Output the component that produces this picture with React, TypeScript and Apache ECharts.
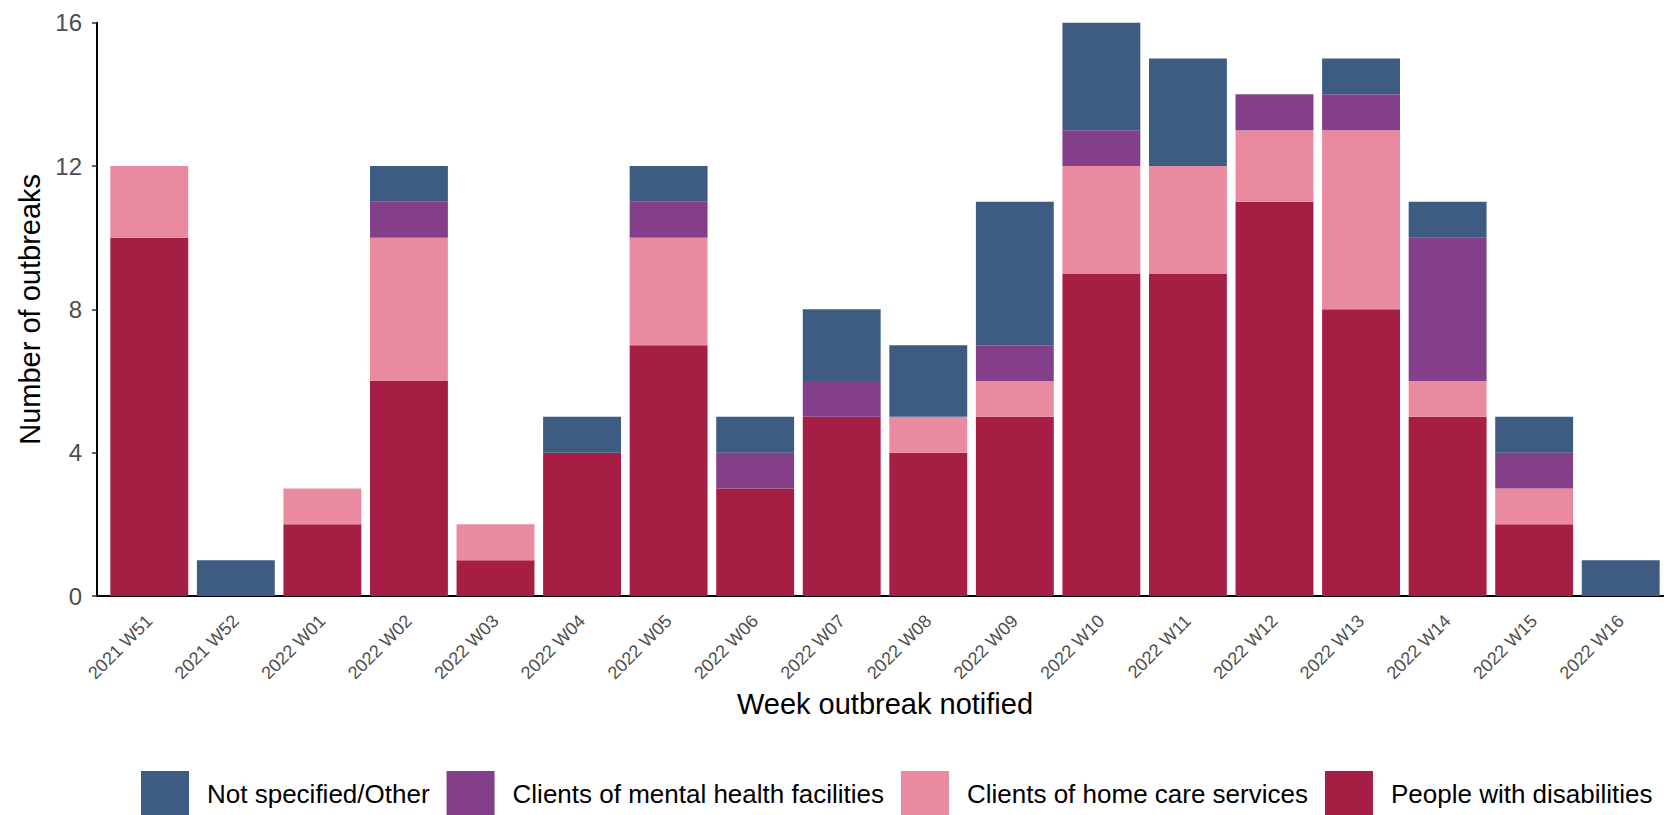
import React, { useEffect, useRef } from "react";
import * as echarts from "echarts";

const weeks = [
  "2021 W51", "2021 W52", "2022 W01", "2022 W02", "2022 W03", "2022 W04",
  "2022 W05", "2022 W06", "2022 W07", "2022 W08", "2022 W09", "2022 W10",
  "2022 W11", "2022 W12", "2022 W13", "2022 W14", "2022 W15", "2022 W16",
];
const peopleWithDisabilities = [10, 0, 2, 6, 1, 4, 7, 3, 5, 4, 5, 9, 9, 11, 8, 5, 2, 0];
const homeCare = [2, 0, 1, 4, 1, 0, 3, 0, 0, 1, 1, 3, 3, 2, 5, 1, 1, 0];
const mentalHealth = [0, 0, 0, 1, 0, 0, 1, 1, 1, 0, 1, 1, 0, 1, 1, 4, 1, 0];
const notSpecified = [0, 1, 0, 1, 0, 1, 1, 1, 2, 2, 4, 3, 3, 0, 1, 1, 1, 1];
const yTicks = { min: 0, max: 16, interval: 4 };

const COLORS = {
  other: "#3E5B82",
  mental: "#843F8A",
  home: "#EA8AA0",
  pwd: "#A61E44",
};

export default function App() {
  const ref = useRef<HTMLDivElement>(null);
  useEffect(() => {
    if (!ref.current) return;
    const chart = echarts.init(ref.current, null, { renderer: "svg" });
    const mk = (name: string, data: number[], color: string) => ({
      name,
      type: "bar",
      stack: "total",
      data,
      barCategoryGap: "10%",
      itemStyle: { color },
      emphasis: { disabled: true },
    });
    chart.setOption({
      animation: false,
      textStyle: { fontFamily: "Liberation Sans, Arial, sans-serif" },
      grid: { left: 106, top: 22.7, width: 1559, height: 573.3, containLabel: false },
      xAxis: {
        type: "category",
        data: weeks,
        name: "Week outbreak notified",
        nameLocation: "middle",
        nameGap: 91,
        nameTextStyle: { fontSize: 29, color: "#000" },
        axisLine: { lineStyle: { color: "#000", width: 2 } },
        axisTick: { alignWithLabel: true, length: 5, lineStyle: { color: "#333", width: 1.5 } },
        axisLabel: { rotate: 45, fontSize: 18, color: "#4D4D4D", margin: 22, interval: 0 },
      },
      yAxis: {
        type: "value",
        min: yTicks.min,
        max: yTicks.max,
        interval: yTicks.interval,
        offset: 9,
        name: "Number of outbreaks",
        nameLocation: "middle",
        nameGap: 48,
        nameTextStyle: { fontSize: 29, color: "#000" },
        axisLine: { show: true, lineStyle: { color: "#000", width: 2 } },
        axisTick: { show: true, length: 5, lineStyle: { color: "#333", width: 1.5 } },
        axisLabel: { fontSize: 24, color: "#4D4D4D", margin: 15 },
        splitLine: { show: false },
      },
      legend: {
        top: 766,
        left: 136,
        width: 1528,
        itemWidth: 48,
        itemHeight: 45,
        itemGap: 17,
        icon: "rect",
        textStyle: { fontSize: 26, color: "#000", padding: [0, 0, 0, 13] },
        data: [
          "Not specified/Other",
          "Clients of mental health facilities",
          "Clients of home care services",
          "People with disabilities",
        ],
      },
      graphic: [
        {
          type: "line",
          shape: { x1: 96, y1: 596, x2: 107, y2: 596 },
          style: { stroke: "#000", lineWidth: 2 },
        },
      ],
      series: [
        mk("People with disabilities", peopleWithDisabilities, COLORS.pwd),
        mk("Clients of home care services", homeCare, COLORS.home),
        mk("Clients of mental health facilities", mentalHealth, COLORS.mental),
        mk("Not specified/Other", notSpecified, COLORS.other),
      ],
    });
    return () => chart.dispose();
  }, []);
  return (
    <div
      ref={ref}
      style={{ position: "absolute", left: 0, top: 0, width: 1664, height: 815, background: "#fff" }}
    />
  );
}
